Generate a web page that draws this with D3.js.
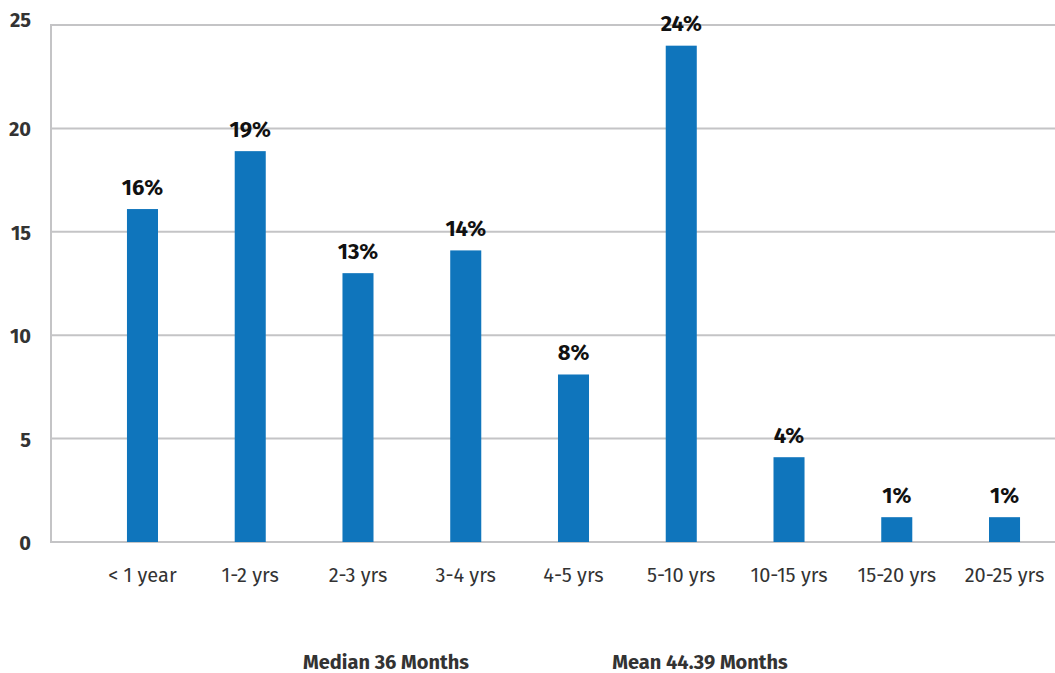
<!DOCTYPE html>
<html>
<head>
<meta charset="utf-8">
<script src="https://cdn.jsdelivr.net/npm/d3@7"></script>
<style>
  html, body { margin: 0; padding: 0; background: #fff; }
  svg { display: block; font-family: "Fira Sans", "Open Sans", "Noto Sans", sans-serif; }
</style>
</head>
<body>
<svg id="chart" width="1055" height="673"></svg>
<script>
// Tenure distribution (share of respondents, %)
const categories = ["< 1 year", "1-2 yrs", "2-3 yrs", "3-4 yrs", "4-5 yrs", "5-10 yrs", "10-15 yrs", "15-20 yrs", "20-25 yrs"];
const shares = [16.1, 18.9, 13.0, 14.1, 8.1, 24.0, 4.1, 1.2, 1.2];
const yTicks = [0, 5, 10, 15, 20, 25];
const footnotes = ["Median 36 Months", "Mean 44.39 Months"];

const svg = d3.select("#chart");
const plotLeft = 51, plotRight = 1058, plotTop = 25, plotBottom = 542;

const x = d3.scaleBand()
  .domain(categories)
  .range([88.6, 1058.4])
  .paddingInner(0.712)
  .paddingOuter(0.356);

const y = d3.scaleLinear().domain([0, 25]).range([plotBottom, plotTop]);

// horizontal gridlines
svg.append("g")
  .selectAll("line")
  .data(yTicks)
  .join("line")
  .attr("x1", plotLeft)
  .attr("x2", plotRight)
  .attr("y1", d => y(d))
  .attr("y2", d => y(d))
  .attr("stroke", "#c4c4c6")
  .attr("stroke-width", 2);

// left axis line
svg.append("line")
  .attr("x1", plotLeft).attr("x2", plotLeft)
  .attr("y1", plotTop - 1).attr("y2", plotBottom + 1)
  .attr("stroke", "#c4c4c6")
  .attr("stroke-width", 2);

// y tick labels
svg.append("g")
  .selectAll("text")
  .data(yTicks)
  .join("text")
  .attr("x", 31)
  .attr("y", d => d === 25 ? y(d) - 5 : y(d) + 1)
  .attr("text-anchor", "end")
  .attr("dominant-baseline", "central")
  .attr("font-size", 20)
  .attr("font-weight", 700)
  .attr("fill", "#333")
  .text(d => d);

// bars
svg.append("g")
  .selectAll("rect")
  .data(shares)
  .join("rect")
  .attr("x", (d, i) => x(categories[i]))
  .attr("width", x.bandwidth())
  .attr("y", d => y(d))
  .attr("height", d => y(0) - y(d))
  .attr("fill", "#0f75bc");

// value labels
svg.append("g")
  .selectAll("text")
  .data(shares)
  .join("text")
  .attr("x", (d, i) => x(categories[i]) + x.bandwidth() / 2)
  .attr("y", d => y(d) - 22)
  .attr("text-anchor", "middle")
  .attr("dominant-baseline", "central")
  .attr("font-size", 22)
  .attr("font-weight", 700)
  .attr("fill", "#111")
  .text(d => Math.round(d) + "%");

// category labels
svg.append("g")
  .selectAll("text")
  .data(categories)
  .join("text")
  .attr("x", d => x(d) + x.bandwidth() / 2)
  .attr("y", 575)
  .attr("text-anchor", "middle")
  .attr("dominant-baseline", "central")
  .attr("font-size", 20)
  .attr("fill", "#333")
  .text(d => d);

// summary statistics below the chart
svg.append("g")
  .selectAll("text")
  .data(footnotes)
  .join("text")
  .attr("x", (d, i) => [386, 700][i])
  .attr("y", 662)
  .attr("text-anchor", "middle")
  .attr("dominant-baseline", "central")
  .attr("font-size", 20)
  .attr("font-weight", 700)
  .attr("fill", "#333")
  .text(d => d);
</script>
</body>
</html>
